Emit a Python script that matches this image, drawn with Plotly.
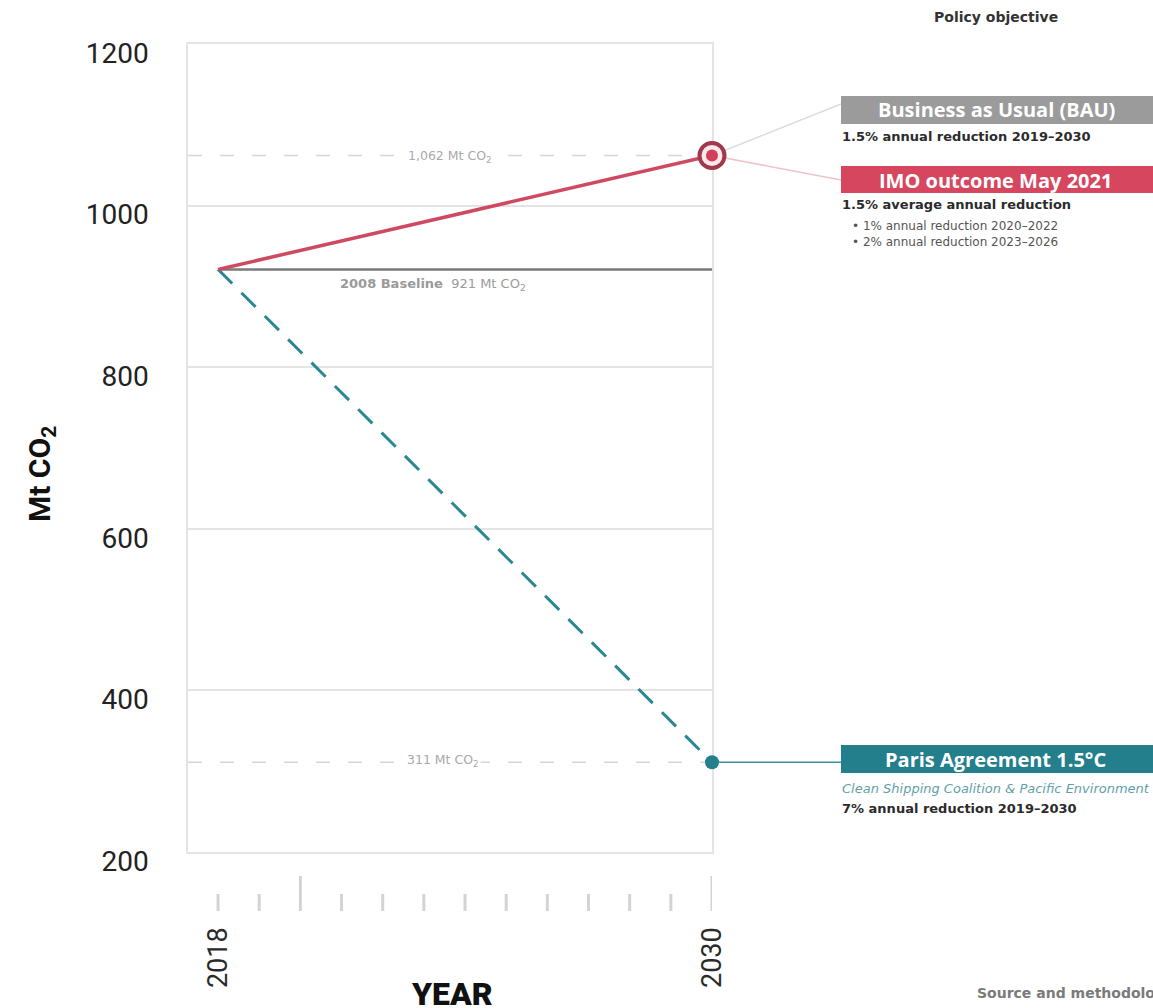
import plotly.graph_objects as go

# ---------------- data ----------------
years = [2018, 2030]
imo_outcome = [921, 1062]
paris_path = [921, 311]
baseline = [921, 921]
ref_levels = [1062, 311]
ref_labels = ["1,062 Mt CO<sub>2</sub>", "311 Mt CO<sub>2</sub>"]
y_ticks = [200, 400, 600, 800, 1000, 1200]
tick_years = list(range(2018, 2031))
major_years = [2020, 2030]
label_years = [2018, 2030]

# ---------------- layout helpers ----------------
W, H = 1153, 1008
L, R, T, B = 188, 712, 44, 852
X_RANGE = [2017.27, 2030]
Y_RANGE = [200, 1200]


def px(xp):
    return (xp - L) / (R - L)


def py(yp):
    return (B - yp) / (B - T)


def yv(yp):
    return Y_RANGE[1] - (yp - T) / (B - T) * (Y_RANGE[1] - Y_RANGE[0])


RED = "#cf4a60"
RED_DARK = "#9f3a4c"
TEAL = "#237f8c"
GRAY_BOX = "#9b9b9b"
FONT = "DejaVu Sans"
BOXFONT = "Open Sans"

fig = go.Figure()

# dashed reference lines
for lvl in ref_levels:
    fig.add_trace(go.Scatter(
        x=X_RANGE, y=[lvl, lvl], mode="lines",
        line=dict(color="#d6d6d6", width=1.5, dash="14px,18px"),
        hoverinfo="skip", showlegend=False))

# baseline
fig.add_trace(go.Scatter(
    x=years, y=baseline, mode="lines",
    line=dict(color="#7a7a7a", width=2.5),
    hoverinfo="skip", showlegend=False))

# Paris path
fig.add_trace(go.Scatter(
    x=years, y=paris_path, mode="lines",
    line=dict(color="#2a8793", width=3, dash="20px,13px"),
    hoverinfo="skip", showlegend=False))

# IMO / BAU path
fig.add_trace(go.Scatter(
    x=years, y=imo_outcome, mode="lines",
    line=dict(color=RED, width=3.5),
    hoverinfo="skip", showlegend=False))

# end markers
fig.add_trace(go.Scatter(
    x=[years[-1]], y=[imo_outcome[-1]], mode="markers",
    marker=dict(size=25, color="rgb(252,232,236)", opacity=1,
                line=dict(color=RED_DARK, width=4)),
    cliponaxis=False, hoverinfo="skip", showlegend=False))
fig.add_trace(go.Scatter(
    x=[years[-1]], y=[imo_outcome[-1]], mode="markers",
    marker=dict(size=12, color="#d23f5a", opacity=1, line=dict(width=0)),
    cliponaxis=False, hoverinfo="skip", showlegend=False))
fig.add_trace(go.Scatter(
    x=[years[-1]], y=[paris_path[-1]], mode="markers",
    marker=dict(size=14, color=TEAL, opacity=1, line=dict(width=0)),
    cliponaxis=False, hoverinfo="skip", showlegend=False))

shapes = []
# year ticks under the plot
for yr in tick_years:
    top = 876 if yr in major_years else 894
    shapes.append(dict(type="line", xref="x", yref="paper",
                       x0=yr, x1=yr, y0=py(top), y1=py(911),
                       line=dict(color="#d3d3d3", width=3)))

# connectors
shapes.append(dict(type="line", xref="paper", yref="y",
                   x0=1.0, y0=imo_outcome[-1], x1=px(841), y1=yv(104),
                   line=dict(color="#dcdcdc", width=1.5), layer="below"))
shapes.append(dict(type="line", xref="paper", yref="y",
                   x0=1.0, y0=imo_outcome[-1], x1=px(841), y1=yv(180),
                   line=dict(color="#f0c2ca", width=1.5), layer="below"))
shapes.append(dict(type="line", xref="paper", yref="y",
                   x0=1.0, y0=paris_path[-1], x1=px(841), y1=paris_path[-1],
                   line=dict(color="#3d909b", width=1.5), layer="below"))

# policy boxes
boxes = [(96, 124, GRAY_BOX), (166, 193, "#d6475f"), (745, 773, TEAL)]
for top, bot, col in boxes:
    shapes.append(dict(type="rect", xref="paper", yref="paper",
                       x0=px(841), x1=px(1170), y0=py(bot), y1=py(top),
                       fillcolor=col, line=dict(width=0), layer="above"))

annotations = []


def ann(text, xp, yp, size, color, weight="normal", xanchor="left", style="normal",
        family=FONT, bg=None, angle=0):
    a = dict(text=text, x=px(xp), y=py(yp), xref="paper", yref="paper",
             xanchor=xanchor, yanchor="middle", showarrow=False, textangle=angle,
             font=dict(family=family, size=size, color=color, weight=weight, style=style))
    if bg:
        a["bgcolor"] = bg
    annotations.append(a)


# reference labels
ann(ref_labels[0], 450, 156, 12.5, "#a9a9a9", xanchor="center", bg="white")
ann(ref_labels[1], 443, 760, 12.5, "#a9a9a9", xanchor="center", bg="white")
ann("<b>2008 Baseline</b>  " + f"{baseline[0]} Mt CO<sub>2</sub>", 338, 284, 13, "#9a9a9a")

# right-side texts
ann("<b>Policy objective</b>", 996, 17, 14, "#333333", xanchor="center")
ann("<b>Business as Usual (BAU)</b>", 996, 110, 20, "white", xanchor="center", family=BOXFONT)
ann("<b>1.5% annual reduction 2019–2030</b>", 840, 136, 13, "#2b2b2b")
ann("<b>IMO outcome May 2021</b>", 995, 180, 20, "white", xanchor="center", family=BOXFONT)
ann("<b>1.5% average annual reduction</b>", 840, 205, 13, "#2b2b2b")
ann("• 1% annual reduction 2020–2022", 850, 226, 12, "#555555")
ann("• 2% annual reduction 2023–2026", 850, 242, 12, "#555555")
ann("<b>Paris Agreement 1.5°C</b>", 995, 759, 20, "white", xanchor="center", family=BOXFONT)
ann("Clean Shipping Coalition & Pacific Environment", 840, 788, 13, "#5f9fa9", style="italic")
ann("<b>7% annual reduction 2019–2030</b>", 840, 808, 13, "#2b2b2b")
ann("<b>Source and methodology</b>", 975, 993, 14, "#7a7a7a")

# axis titles
ann("<b>Mt CO<sub>2</sub></b>", 41, 474, 30, "#111111", xanchor="center", family="Roboto", angle=-90)
ann("YEAR", 452, 994, 32, "#111111", xanchor="center", family="Roboto", weight=900)

# rotated year labels
for yr in label_years:
    annotations.append(dict(text=str(yr), x=yr, y=py(958), xref="x", yref="paper",
                            xanchor="center", yanchor="middle", showarrow=False, textangle=-90,
                            font=dict(family="Roboto", size=27, color="#2a2a2a")))

fig.update_layout(
    width=W, height=H,
    margin=dict(l=L, r=W - R, t=T, b=H - B),
    paper_bgcolor="white", plot_bgcolor="white",
    shapes=shapes, annotations=annotations,
    xaxis=dict(range=X_RANGE, showgrid=False, zeroline=False, showticklabels=False,
               ticks="", showline=True, linecolor="#e4e4e4", linewidth=1.5, mirror=True,
               layer="below traces"),
    yaxis=dict(range=Y_RANGE, tickvals=y_ticks, showgrid=True, gridcolor="#e4e4e4",
               gridwidth=1.5, zeroline=False, ticks="", showline=True, linecolor="#e4e4e4",
               linewidth=1.5, mirror=True, ticklabelstandoff=32, ticklabelshift=9,
               layer="below traces",
               tickfont=dict(family="Roboto", size=28, color="#222222")),
)

fig.write_html("out.html")
